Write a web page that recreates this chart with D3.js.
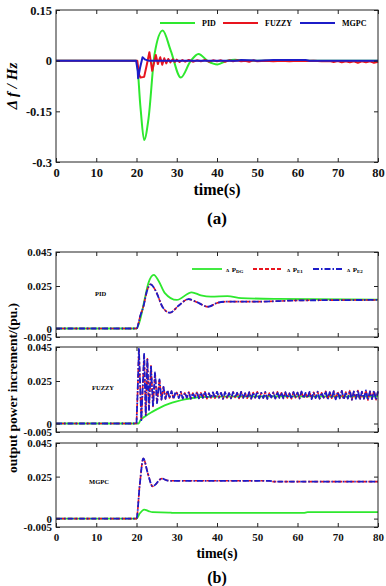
<!DOCTYPE html>
<html>
<head>
<meta charset="utf-8">
<script src="https://cdn.jsdelivr.net/npm/d3@7"></script>
<style>
  body { margin: 0; background: #fff; }
  text { font-family: "Liberation Serif", "Times New Roman", serif; font-weight: bold; }
</style>
</head>
<body>
<svg id="chart" width="386" height="586"></svg>
<script>
// ---- data ----
var timeTicks = [0, 10, 20, 30, 40, 50, 60, 70, 80];
var dfTicks = [0.15, 0, -0.15, -0.3];
var powTicks = [0.045, 0.025, 0, -0.005];

var dfLegend = ['PID', 'FUZZY', 'MGPC'];
var panelNames = ['PID', 'FUZZY', 'MGPC'];

// (a) frequency deviation, [time, value]
var dfPID = [[0, 0], [20, 0], [21, -0.14], [21.9, -0.235], [23, -0.17], [24.5, 0.02], [26.5, 0.089],
  [28.5, 0.03], [31, -0.05], [33.4, -0.002], [35.4, 0.02], [37.8, -0.002], [40.1, -0.011], [42.5, 0],
  [44.5, 0.003], [47, 0], [80, 0]];
var dfFUZZY = [[0, 0], [20.2, 0], [20.6, -0.04], [21, -0.05], [21.9, -0.048], [22.6, -0.01], [23.2, 0.025],
  [23.9, -0.03], [24.8, 0.017], [25.3, -0.01], [25.9, 0.01], [26.4, -0.012], [26.9, 0.007], [27.4, -0.008],
  [27.9, 0.005], [28.4, -0.005], [29, 0.004], [29.5, -0.004], [30, 0.003], [30.7, -0.004], [31.4, 0.002],
  [32.1, -0.003], [33, 0.002], [34, -0.003], [35, 0.001], [36, -0.002], [37, 0.002], [38, -0.003],
  [39, 0.001], [40, -0.002], [41, 0.001], [42, -0.003], [43, 0.001], [44, -0.002], [45, 0.001],
  [46, -0.002], [47, 0], [48, -0.003], [49, 0.001], [50, -0.002], [52, 0], [54, -0.002], [56, 0],
  [58, -0.002], [60, 0], [62, -0.001], [64, 0], [66, -0.002], [68, -0.001], [69, -0.004], [70, -0.001],
  [71, -0.005], [72, -0.002], [73, -0.005], [74, -0.002], [75, -0.006], [76, -0.002], [77, -0.005],
  [78, -0.002], [79, -0.006], [80, -0.003]];
var dfMGPC = [[0, 0], [19.9, 0], [20.3, -0.03], [20.4, -0.052], [20.9, -0.02], [21.5, 0.01], [22.2, 0.003],
  [23, 0], [45, 0], [46, 0.002], [50, 0], [54, 0.002], [62, 0.002], [63, 0], [80, 0]];

// (b) output power increments, [time, value]
var pidDG = [[0, 0], [20, 0], [21, 0.006], [22, 0.017], [23, 0.027], [24.3, 0.0315], [25.5, 0.028],
  [27, 0.021], [30, 0.0168], [33.7, 0.0213], [36, 0.0195], [38.5, 0.0187], [42.6, 0.019], [46, 0.0179],
  [55, 0.0174], [80, 0.017]];
var pidE1 = [[0, 0], [20, 0], [21, 0.008], [21.7, 0.0128], [22.6, 0.022], [23.5, 0.026], [24.8, 0.022],
  [26.5, 0.0125], [28.3, 0.0093], [30.5, 0.0135], [32.9, 0.0173], [35, 0.0155], [37.8, 0.0128],
  [40, 0.015], [42.4, 0.0158], [50, 0.0158], [60, 0.0165], [80, 0.0168]];
var pidE2 = pidE1; // the two traces lie on top of each other

var fuzzyDG = [[0, 0], [20.5, 0], [21, 0.002], [22, 0.004], [24, 0.007], [26, 0.0095], [28, 0.0115],
  [30, 0.013], [32, 0.0142], [34, 0.015], [36, 0.0155], [40, 0.0158], [50, 0.016], [80, 0.016]];
var fuzzyE2 = [[0, 0], [20, 0], [20.3, 0.02], [20.6, 0.044], [21.2, 0.002], [21.9, 0.041], [22.3, 0.005],
  [22.7, 0.038], [23.1, 0.008], [23.6, 0.034], [24.1, 0.010], [24.6, 0.030], [25.1, 0.012], [25.7, 0.026],
  [26.2, 0.014], [26.7, 0.0215], [27.2, 0.0145], [27.7, 0.0195], [28.2, 0.015], [28.7, 0.019],
  [29.2, 0.0145], [29.7, 0.0185],
  [30, 0.0182], [30.5, 0.0150], [31, 0.0186], [31.5, 0.0147], [32, 0.0180], [32.5, 0.0152], [33, 0.0185],
  [33.5, 0.0146], [34, 0.0179], [34.5, 0.0153], [35, 0.0184], [35.5, 0.0148], [36, 0.0181], [36.5, 0.0151],
  [37, 0.0187], [37.5, 0.0146], [38, 0.0178], [38.5, 0.0150], [39, 0.0183], [39.5, 0.0149], [40, 0.0186],
  [40.5, 0.0152], [41, 0.0180], [41.5, 0.0145], [42, 0.0184], [42.5, 0.0150], [43, 0.0179], [43.5, 0.0148],
  [44, 0.0185], [44.5, 0.0153], [45, 0.0181], [45.5, 0.0147], [46, 0.0186], [46.5, 0.0151], [47, 0.0178],
  [47.5, 0.0149], [48, 0.0184], [48.5, 0.0146], [49, 0.0182], [49.5, 0.0152], [50, 0.0187], [50.5, 0.0148],
  [51, 0.0180], [51.5, 0.0150], [52, 0.0185], [52.5, 0.0145], [53, 0.0179], [53.5, 0.0153], [54, 0.0183],
  [54.5, 0.0147], [55, 0.0186], [55.5, 0.0151], [56, 0.0181], [56.5, 0.0148], [57, 0.0184], [57.5, 0.0150],
  [58, 0.0178], [58.5, 0.0146], [59, 0.0185], [59.5, 0.0152], [60, 0.0182], [60.5, 0.0147], [61, 0.0188],
  [61.5, 0.0149], [62, 0.0180], [62.5, 0.0151], [63, 0.0186], [63.5, 0.0144], [64, 0.0183], [64.5, 0.0150],
  [65, 0.0187], [65.5, 0.0146], [66, 0.0181], [66.5, 0.0152], [67, 0.0189], [67.5, 0.0143], [68, 0.0184],
  [68.5, 0.0149], [69, 0.0190], [69.5, 0.0142], [70, 0.0186], [70.5, 0.0148], [71, 0.0192], [71.5, 0.0141],
  [72, 0.0185], [72.5, 0.0147], [73, 0.0193], [73.5, 0.0140], [74, 0.0188], [74.5, 0.0145], [75, 0.0194],
  [75.5, 0.0139], [76, 0.0187], [76.5, 0.0146], [77, 0.0195], [77.5, 0.0138], [78, 0.0189], [78.5, 0.0144],
  [79, 0.0193], [79.5, 0.0140], [80, 0.0190]];
var fuzzyE1 = fuzzyE2; // overlapping traces

var mgpcDG = [[0, 0], [20, 0], [20.8, 0.003], [21.9, 0.0054], [23, 0.0045], [24, 0.0038], [28, 0.0036],
  [29, 0.0034], [61.5, 0.0034], [62.5, 0.0038], [80, 0.0038]];
var mgpcE1 = [[0, 0], [20, 0], [20.8, 0.02], [21.7, 0.0358], [22.8, 0.027], [24, 0.0192], [26.3, 0.0238],
  [27.5, 0.0228], [28.5, 0.0225], [53, 0.0225], [54, 0.022], [80, 0.022]];
var mgpcE2 = mgpcE1;

(function () {

    window.addEventListener('load', init);

    function init() {
        var svg = d3.select('#chart');
        var left = 56, right = 378;
        var green = '#2ee82e', red = '#e8141e', blue = '#1c1cc8';

        var xScale = d3.scaleLinear().domain([0, 80]).range([left, right]);

        // draws box, inward ticks on all four sides
        function frame(yScale, yTicks, top, bottom, xLabels, fs) {
            var g = svg.append('g');
            g.append('g')
                .attr('transform', 'translate(0,' + bottom + ')')
                .call(d3.axisBottom(xScale).tickValues(timeTicks).tickSize(-4).tickSizeOuter(0)
                    .tickPadding(xLabels ? 6 : 0)
                    .tickFormat(xLabels ? function (d) { return d; } : ''));
            g.append('g')
                .attr('transform', 'translate(0,' + top + ')')
                .call(d3.axisTop(xScale).tickValues(timeTicks).tickSize(-4).tickSizeOuter(0).tickFormat(''));
            g.append('g')
                .attr('transform', 'translate(' + left + ',0)')
                .call(d3.axisLeft(yScale).tickValues(yTicks).tickSize(-4).tickSizeOuter(0).tickPadding(4)
                    .tickFormat(function (d) { return String(d); }));
            g.append('g')
                .attr('transform', 'translate(' + right + ',0)')
                .call(d3.axisRight(yScale).tickValues(yTicks).tickSize(-4).tickSizeOuter(0).tickFormat(''));
            g.selectAll('.domain').remove();
            g.selectAll('.tick line').attr('stroke', '#222');
            g.selectAll('text')
                .attr('fill', '#111')
                .style('font-family', '"Liberation Serif", "Times New Roman", serif')
                .style('font-weight', 'bold')
                .style('font-size', fs + 'px');
            g.append('rect')
                .attr('x', left).attr('y', top)
                .attr('width', right - left).attr('height', bottom - top)
                .attr('fill', 'none').attr('stroke', '#222').attr('stroke-width', 1);
            return g;
        }

        function drawLine(data, yScale, color, width, dash, curve) {
            var line = d3.line()
                .x(function (d) { return xScale(d[0]); })
                .y(function (d) { return yScale(d[1]); })
                .curve(curve || d3.curveMonotoneX);
            svg.append('path')
                .datum(data)
                .attr('d', line)
                .attr('fill', 'none')
                .attr('stroke', color)
                .attr('stroke-width', width)
                .attr('stroke-dasharray', dash || null)
                .attr('stroke-linejoin', 'round');
        }

        // ---------- (a) ----------
        var yDf = d3.scaleLinear().domain([-0.3, 0.15]).range([162, 10]);
        drawLine(dfPID, yDf, green, 2);
        drawLine(dfFUZZY, yDf, red, 2, null, d3.curveLinear);
        drawLine(dfMGPC, yDf, blue, 2, null, d3.curveLinear);
        frame(yDf, dfTicks, 10, 162, true, 12.5);

        var legColors = [green, red, blue];
        var legX = [160, 223, 300];
        dfLegend.forEach(function (name, i) {
            svg.append('line')
                .attr('x1', legX[i]).attr('x2', legX[i] + 35)
                .attr('y1', 23).attr('y2', 23)
                .attr('stroke', legColors[i]).attr('stroke-width', 2);
            svg.append('text')
                .attr('x', legX[i] + 42).attr('y', 26)
                .style('font-size', '8px')
                .text(name);
        });

        svg.append('text')
            .attr('x', (left + right) / 2).attr('y', 195)
            .style('text-anchor', 'middle').style('font-size', '16px')
            .text('time(s)');
        svg.append('text')
            .attr('x', (left + right) / 2).attr('y', 224)
            .style('text-anchor', 'middle').style('font-size', '17px')
            .text('(a)');
        svg.append('text')
            .attr('transform', 'translate(17,86) rotate(-90)')
            .style('text-anchor', 'middle').style('font-size', '15px').style('font-style', 'italic')
            .text('\u0394 f / Hz');

        // ---------- (b) ----------
        var panels = [
            { top: 252, bottom: 337, dg: pidDG, e1: pidE1, e2: pidE2, labelY: 296, curve: d3.curveMonotoneX },
            { top: 347, bottom: 432, dg: fuzzyDG, e1: fuzzyE1, e2: fuzzyE2, labelY: 390, curve: d3.curveLinear },
            { top: 443, bottom: 527, dg: mgpcDG, e1: mgpcE1, e2: mgpcE2, labelY: 484, curve: d3.curveMonotoneX }
        ];

        panels.forEach(function (p, i) {
            var y = d3.scaleLinear().domain([-0.005, 0.045]).range([p.bottom, p.top]);
            drawLine(p.dg, y, green, 1.8);
            drawLine(p.e1, y, red, 1.6, '4,2', p.curve);
            drawLine(p.e2, y, blue, 1.8, '6,2,1.5,2', p.curve);
            frame(y, powTicks, p.top, p.bottom, i === 2, 11);
            svg.append('text')
                .attr('x', [95, 92, 89][i]).attr('y', p.labelY)
                .style('font-size', '6.5px')
                .text(panelNames[i]);
        });

        // legend of (b)
        var bLeg = [
            { x: 192, color: green, dash: null, sub: 'DG' },
            { x: 253, color: red, dash: '4,2', sub: 'E1' },
            { x: 313, color: blue, dash: '6,2,1.5,2', sub: 'E2' }
        ];
        bLeg.forEach(function (l) {
            svg.append('line')
                .attr('x1', l.x).attr('x2', l.x + 30)
                .attr('y1', 269).attr('y2', 269)
                .attr('stroke', l.color).attr('stroke-width', 1.8)
                .attr('stroke-dasharray', l.dash);
            var t = svg.append('text')
                .attr('x', l.x + 34).attr('y', 271.5)
                .style('font-size', '7px');
            t.append('tspan').style('font-size', '5px').text('\u0394');
            t.append('tspan').attr('dx', 2.5).text('P');
            t.append('tspan').attr('dy', 1.5).style('font-size', '5px').text(l.sub);
        });

        svg.append('text')
            .attr('x', (left + right) / 2).attr('y', 558)
            .style('text-anchor', 'middle').style('font-size', '14px')
            .text('time(s)');
        svg.append('text')
            .attr('x', (left + right) / 2).attr('y', 583)
            .style('text-anchor', 'middle').style('font-size', '16px')
            .text('(b)');
        svg.append('text')
            .attr('transform', 'translate(17,388) rotate(-90)')
            .style('text-anchor', 'middle').style('font-size', '13.5px')
            .text('output power increment/(pu.)');
    }
})();
</script>
</body>
</html>
